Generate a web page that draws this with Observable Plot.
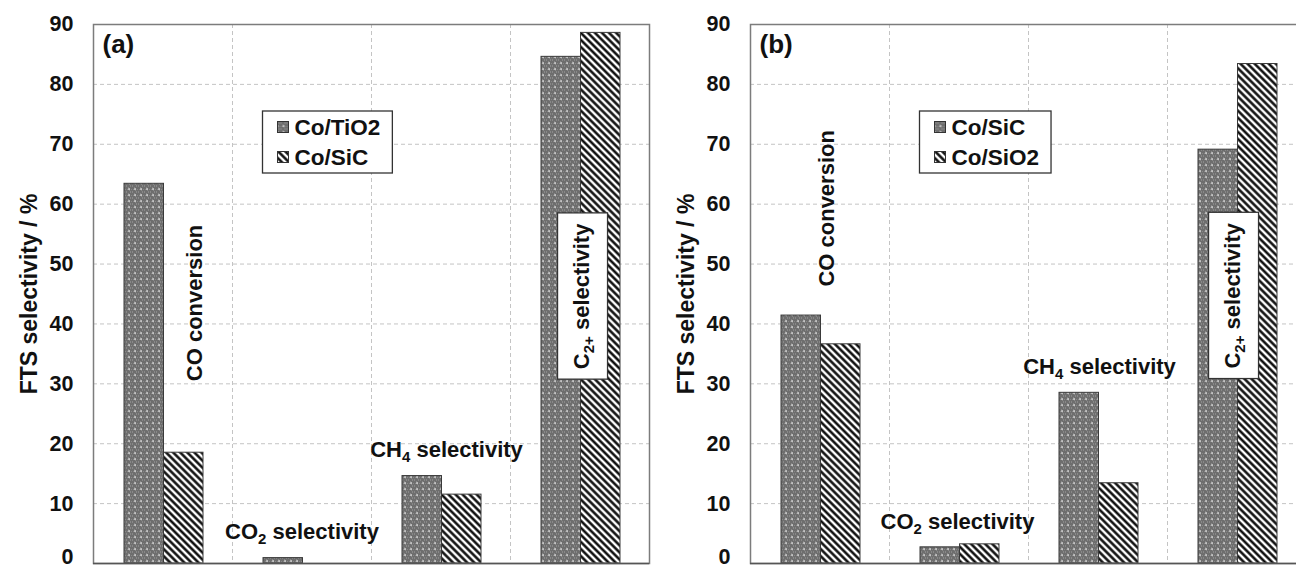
<!DOCTYPE html>
<html>
<head>
<meta charset="utf-8">
<script src="https://cdn.jsdelivr.net/npm/d3@7"></script>
<script src="https://cdn.jsdelivr.net/npm/@observablehq/plot@0.6"></script>
<style>
html, body { margin: 0; padding: 0; background: #fff; }
#wrap { position: relative; width: 1296px; height: 569px; overflow: hidden; background: #fff; }
#wrap svg { position: absolute; top: 0; }
</style>
</head>
<body>
<div id="wrap"></div>
<script>
// ---------- data ----------
const categories = ["CO conversion", "CO₂ selectivity", "CH₄ selectivity", "C₂₊ selectivity"];
const yTicks = [0, 10, 20, 30, 40, 50, 60, 70, 80, 90];
const yLabel = "FTS selectivity / %";
const panelLabels = ["(a)", "(b)"];

const seriesA = ["Co/TiO2", "Co/SiC"];
const valuesA_TiO2 = [63.4, 0.9, 14.6, 84.6];
const valuesA_SiC = [18.5, 0.0, 11.5, 88.6];

const seriesB = ["Co/SiC", "Co/SiO2"];
const valuesB_SiC = [41.4, 2.7, 28.5, 69.1];
const valuesB_SiO2 = [36.6, 3.2, 13.4, 83.4];

// ---------- layout (annotation placement per panel, in data units + pixel nudges) ----------
const annotLayoutA = [
  {y: 43.5, rotate: -90, dx: 31.5},
  {y: 5.2, rotate: 0, dx: 0},
  {y: 18.9, rotate: 0, dx: 5.5},
  {y: 44.6, rotate: -90, dx: 1.5, boxed: true}
];
const annotLayoutB = [
  {y: 59.3, rotate: -90, dx: 7},
  {y: 7.0, rotate: 0, dx: -1.5},
  {y: 32.9, rotate: 0, dx: 1.5},
  {y: 44.7, rotate: -90, dx: -4.5, boxed: true}
];

const FONT = "'Liberation Sans', Arial, sans-serif";
const W = 656, H = 569, ML = 93, MR = 7, MT = 24, MB = 6;
const BAND = (W - ML - MR) / categories.length;
const insets = [[31, 68.5], [70.5, 29]];

const SUB = {"₂": "2", "₄": "4", "₊": "+"};
function subscriptify(textEl) {
  const s = textEl.textContent;
  if (![...s].some(ch => ch in SUB)) return;
  const runs = [];
  for (const ch of s) {
    const sub = ch in SUB;
    const c = sub ? SUB[ch] : ch;
    if (runs.length && runs[runs.length - 1].sub === sub) runs[runs.length - 1].str += c;
    else runs.push({sub, str: c});
  }
  textEl.textContent = "";
  let shifted = false;
  for (const r of runs) {
    const t = d3.select(textEl).append("tspan").text(r.str);
    if (r.sub) { t.attr("font-size", 15).attr("dy", 5); shifted = true; }
    else if (shifted) { t.attr("dy", -5); shifted = false; }
  }
}

function makePanel(id, series, values, layout, label, left) {
  const rows = [];
  categories.forEach((c, i) => {
    series.forEach((s, k) => rows.push({category: c, series: s, value: values[k][i]}));
  });
  const fills = [`url(#dots-${id})`, `url(#stripes-${id})`];

  const annotMarks = categories.map((c, i) => {
    const L = layout[i];
    return Plot.text([{category: c, y: L.y}], {
      x: "category", y: "y", text: "category",
      rotate: L.rotate, dx: L.dx,
      textAnchor: "middle", fontSize: 22, fontWeight: "bold", fill: "#111"
    });
  });

  const axisOpts = {tickSize: 0, tickPadding: 20, label: null, tickFormat: d => String(d), fontSize: 21.5, fontWeight: "bold"};

  const svg = Plot.plot({
    width: W, height: H,
    marginLeft: ML, marginRight: MR, marginTop: MT, marginBottom: MB,
    style: {fontFamily: FONT, fontSize: "21.5px", fontWeight: "bold", color: "#111", background: "white", overflow: "visible"},
    x: {domain: categories, padding: 0, axis: null},
    y: {domain: [0, 90], axis: null},
    marks: [
      Plot.ruleY(yTicks.filter(t => t > 0 && t < 90), {stroke: "#c4c4c4", strokeDasharray: "4,3", strokeWidth: 1}),
      Plot.ruleX(categories.slice(1), {stroke: "#c4c4c4", strokeDasharray: "4,3", strokeWidth: 1, dx: -BAND / 2}),
      ...series.map((s, k) => Plot.barY(rows.filter(r => r.series === s), {
        x: "category", y: "value", fill: fills[k], stroke: "#3a3a3a", strokeWidth: 1,
        insetLeft: insets[k][0], insetRight: insets[k][1]
      })),
      Plot.frame({stroke: "#7c7c7c", strokeWidth: 1.5}),
      Plot.ruleY([0], {stroke: "#555", strokeWidth: 1.5}),
      Plot.axisY(yTicks.filter(t => t > 0), axisOpts),
      Plot.axisY([0], {...axisOpts, dy: -6}),
      ...annotMarks,
      Plot.text([label], {frameAnchor: "top-left", textAnchor: "start", lineAnchor: "top", dx: 9, dy: 10, fontSize: 26, fontWeight: "bold", fill: "#111"}),
      Plot.text([yLabel], {frameAnchor: "left", rotate: -90, textAnchor: "middle", dx: -64, fontSize: 23, fontWeight: "bold", fill: "#111"})
    ]
  });

  // patterns
  const defs = d3.select(svg).insert("defs", ":first-child");
  const dots = defs.append("pattern").attr("id", `dots-${id}`).attr("patternUnits", "userSpaceOnUse").attr("width", 6).attr("height", 6);
  dots.append("rect").attr("width", 6).attr("height", 6).attr("fill", "#6e6e6e");
  [[0,0],[2,1],[4,0],[1,3],[3,4],[5,3],[0,5],[4,5]].forEach(([x, y]) =>
    dots.append("rect").attr("x", x).attr("y", y).attr("width", 1).attr("height", 1).attr("fill", "#888"));
  dots.append("rect").attr("x", 2.3).attr("y", 2.3).attr("width", 1.5).attr("height", 1.5).attr("fill", "#f4f4f4");
  const st = defs.append("pattern").attr("id", `stripes-${id}`).attr("patternUnits", "userSpaceOnUse")
    .attr("width", 5).attr("height", 5).attr("patternTransform", "rotate(-45)");
  st.append("rect").attr("width", 5).attr("height", 5).attr("fill", "#fff");
  st.append("line").attr("x1", 2.5).attr("x2", 2.5).attr("y1", -1).attr("y2", 6).attr("stroke", "#000").attr("stroke-width", 2.4);

  svg.style.left = left + "px";
  document.getElementById("wrap").appendChild(svg);

  // subscripts + boxed label
  const boxedName = categories[layout.findIndex(l => l.boxed)];
  d3.select(svg).selectAll("text").each(function () {
    const isBoxed = this.textContent === boxedName;
    subscriptify(this);
    if (isBoxed) {
      const b = this.getBBox();
      const px = 10, py = 11;
      const r = document.createElementNS("http://www.w3.org/2000/svg", "rect");
      r.setAttribute("x", b.x - px);
      r.setAttribute("y", b.y - py);
      r.setAttribute("width", b.width + 2 * px);
      r.setAttribute("height", b.height + 2 * py);
      r.setAttribute("fill", "white");
      r.setAttribute("stroke", "#333");
      r.setAttribute("stroke-width", "1.3");
      const tr = this.getAttribute("transform");
      if (tr) r.setAttribute("transform", tr);
      this.parentNode.insertBefore(r, this);
    }
  });

  // legend
  const lg = d3.select(svg).append("g").attr("transform", `translate(${ML + 169.5},111)`)
    .attr("font-size", 22.5).attr("font-weight", "bold").attr("font-family", FONT).attr("text-anchor", "start");
  const box = lg.append("rect").attr("height", 62).attr("fill", "white").attr("stroke", "#333").attr("stroke-width", 1.3);
  let maxW = 0;
  series.forEach((s, k) => {
    const cy = 16 + k * 30;
    lg.append("rect").attr("x", 15).attr("y", cy - 5.5).attr("width", 11).attr("height", 11)
      .attr("fill", fills[k]).attr("stroke", "#333").attr("stroke-width", 1);
    const t = lg.append("text").attr("x", 32).attr("y", cy).attr("dy", "0.36em").attr("fill", "#111").text(s);
    maxW = Math.max(maxW, t.node().getComputedTextLength());
  });
  box.attr("width", 32 + maxW + 12);
}

makePanel("a", seriesA, [valuesA_TiO2, valuesA_SiC], annotLayoutA, panelLabels[0], 0);
makePanel("b", seriesB, [valuesB_SiC, valuesB_SiO2], annotLayoutB, panelLabels[1], 657);
</script>
</body>
</html>
